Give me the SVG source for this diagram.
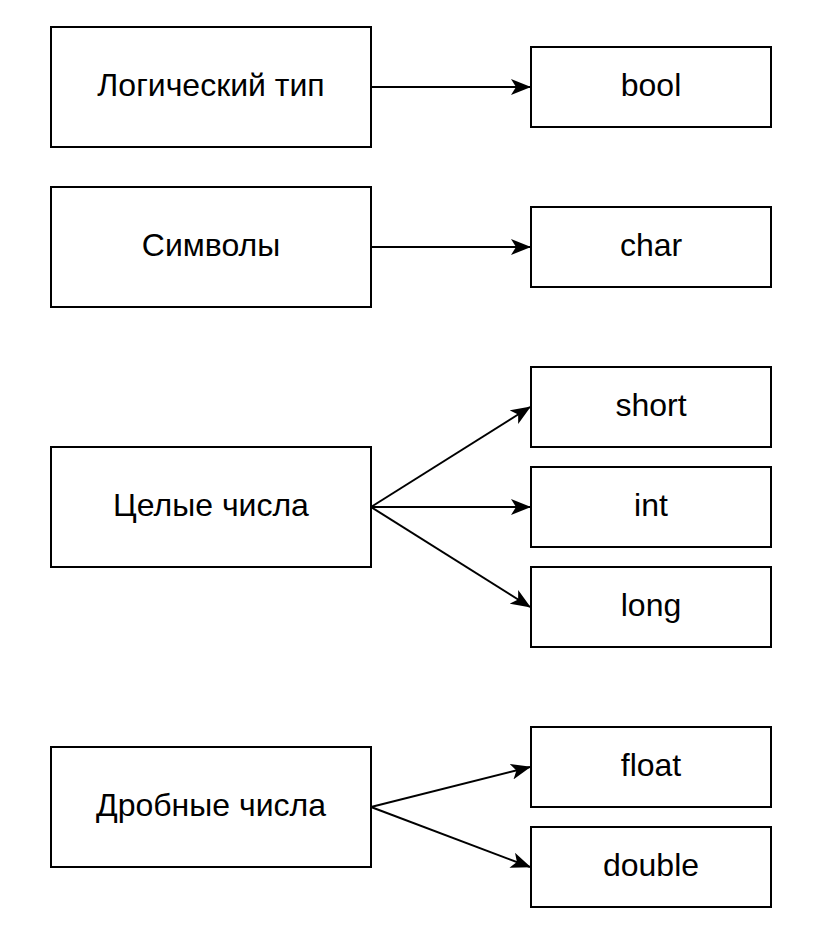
<svg xmlns="http://www.w3.org/2000/svg" width="820" height="934" viewBox="0 0 820 934">
<style>
.box{fill:#fff;stroke:#000;stroke-width:2}
.lbl{font-family:"Liberation Sans",Arial,sans-serif;font-size:32px;fill:#000;text-anchor:middle}
.edge{fill:none;stroke:#000;stroke-width:2}
</style>
<defs>
<marker id="arr" viewBox="0 0 20 16" refX="19" refY="8" markerWidth="20" markerHeight="16" markerUnits="userSpaceOnUse" orient="auto">
<path d="M0,0 L20,8 L0,16 L5,8 Z" fill="#000"/>
</marker>
</defs>
<rect width="820" height="934" fill="#fff"/>
<g id="connectors">
<line class="edge" x1="371" y1="87" x2="530" y2="87" marker-end="url(#arr)"/>
<line class="edge" x1="371" y1="247" x2="530" y2="247" marker-end="url(#arr)"/>
<line class="edge" x1="371" y1="507" x2="530" y2="407" marker-end="url(#arr)"/>
<line class="edge" x1="371" y1="507" x2="530" y2="507" marker-end="url(#arr)"/>
<line class="edge" x1="371" y1="507" x2="530" y2="607" marker-end="url(#arr)"/>
<line class="edge" x1="371" y1="807" x2="530" y2="767" marker-end="url(#arr)"/>
<line class="edge" x1="371" y1="807" x2="530" y2="867" marker-end="url(#arr)"/>
</g>
<g id="n-logic"><rect class="box" x="51" y="27" width="320" height="120"/><text class="lbl" x="211" y="96">Логический тип</text></g>
<g id="n-symbols"><rect class="box" x="51" y="187" width="320" height="120"/><text class="lbl" x="211" y="256">Символы</text></g>
<g id="n-integers"><rect class="box" x="51" y="447" width="320" height="120"/><text class="lbl" x="211" y="516">Целые числа</text></g>
<g id="n-fractional"><rect class="box" x="51" y="747" width="320" height="120"/><text class="lbl" x="211" y="816">Дробные числа</text></g>
<g id="n-bool"><rect class="box" x="531" y="47" width="240" height="80"/><text class="lbl" x="651" y="96">bool</text></g>
<g id="n-char"><rect class="box" x="531" y="207" width="240" height="80"/><text class="lbl" x="651" y="256">char</text></g>
<g id="n-short"><rect class="box" x="531" y="367" width="240" height="80"/><text class="lbl" x="651" y="416">short</text></g>
<g id="n-int"><rect class="box" x="531" y="467" width="240" height="80"/><text class="lbl" x="651" y="516">int</text></g>
<g id="n-long"><rect class="box" x="531" y="567" width="240" height="80"/><text class="lbl" x="651" y="616">long</text></g>
<g id="n-float"><rect class="box" x="531" y="727" width="240" height="80"/><text class="lbl" x="651" y="776">float</text></g>
<g id="n-double"><rect class="box" x="531" y="827" width="240" height="80"/><text class="lbl" x="651" y="876">double</text></g>
</svg>
